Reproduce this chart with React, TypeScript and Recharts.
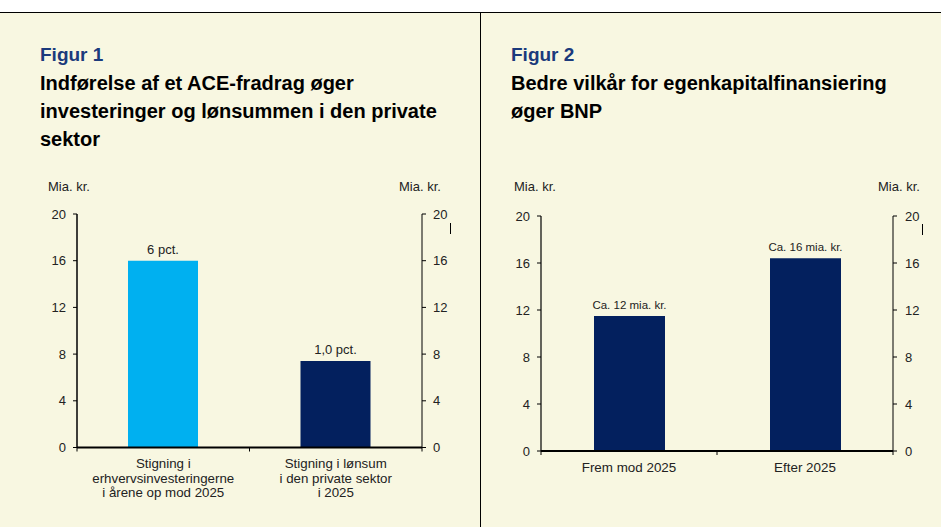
import React from 'react';
import { ComposedChart, Bar, Line, XAxis, YAxis, LabelList, Cell } from 'recharts';

// ---------- data ----------
const fig1Categories = [
  'Stigning i\nerhvervsinvesteringerne\ni årene op mod 2025',
  'Stigning i lønsum\ni den private sektor\ni 2025',
];
const fig1Values = [16, 7.4];
const fig1Labels = ['6 pct.', '1,0 pct.'];
const fig1Colors = ['#00B0F0', '#03205E'];

const fig2Categories = ['Frem mod 2025', 'Efter 2025'];
const fig2Values = [11.5, 16.4];
const fig2Labels = ['Ca. 12 mia. kr.', 'Ca. 16 mia. kr.'];
const fig2Color = '#03205E';

const yTicks = [0, 4, 8, 12, 16, 20];

const fig1Data = fig1Categories.map((c, i) => ({ cat: c, value: fig1Values[i], label: fig1Labels[i] }));
const fig2Data = fig2Categories.map((c, i) => ({ cat: c, value: fig2Values[i], label: fig2Labels[i] }));

const FONT = '"Liberation Sans", Arial, Helvetica, sans-serif';
const BG = '#F8F7E1';
const TXT = '#222222';

const CatTick = (props: any) => {
  const { x, y, payload, width, visibleTicksCount, index, fallbackWidth, fontSize, dyFirst, lineGap } = props;
  const count = visibleTicksCount || 2;
  const w = typeof width === 'number' && width > 0 ? width : fallbackWidth;
  const band = w / count;
  const lines = String(payload.value).split('\n');
  return (
    <g>
      <line x1={x - band / 2} x2={x - band / 2} y1={y} y2={y + 4} stroke="#000" strokeWidth={1} />
      {index === count - 1 && (
        <line x1={x + band / 2} x2={x + band / 2} y1={y} y2={y + 4} stroke="#000" strokeWidth={1} />
      )}
      <text x={x} y={y} textAnchor="middle" fontSize={fontSize} fill={TXT} fontFamily={FONT}>
        {lines.map((l, i) => (
          <tspan key={i} x={x} dy={i === 0 ? dyFirst : lineGap}>
            {l}
          </tspan>
        ))}
      </text>
    </g>
  );
};

const NumTick = (props: any) => {
  const { x, y, payload, anchor } = props;
  return (
    <text x={x} y={y} dy={4.6} textAnchor={anchor} fontSize={13} fill={TXT} fontFamily={FONT}>
      {payload.value}
    </text>
  );
};

const BarLabel = (props: any) => {
  const { x, y, width, value, fontSize } = props;
  return (
    <text x={x + width / 2} y={y - 7} textAnchor="middle" fontSize={fontSize} fill={TXT} fontFamily={FONT}>
      {value}
    </text>
  );
};

const titleStyle: React.CSSProperties = {
  position: 'absolute',
  fontFamily: FONT,
  fontWeight: 'bold',
  fontSize: 20,
  lineHeight: '28px',
  color: '#000',
  whiteSpace: 'nowrap',
};

const unitStyle: React.CSSProperties = {
  position: 'absolute',
  fontFamily: FONT,
  fontSize: 13,
  lineHeight: '15px',
  color: TXT,
  whiteSpace: 'nowrap',
};

export default function App() {
  return (
    <div style={{ position: 'absolute', left: 0, top: 0, width: 941, height: 527, background: '#fff', overflow: 'hidden' }}>
      <div style={{ position: 'absolute', left: 0, top: 12, width: 941, height: 515, background: BG }} />
      <div style={{ position: 'absolute', left: 0, top: 12, width: 941, height: 1, background: '#000' }} />
      <div style={{ position: 'absolute', left: 480, top: 12, width: 1, height: 515, background: '#000' }} />

      {/* Figure 1 titles */}
      <div style={{ ...titleStyle, left: 40, top: 40 }}>
        <span style={{ color: '#1B3A7C', fontSize: 19 }}>Figur 1</span>
        <br />
        Indførelse af et ACE-fradrag øger
        <br />
        investeringer og lønsummen i den private
        <br />
        sektor
      </div>
      <div style={{ ...unitStyle, left: 48, top: 179 }}>Mia. kr.</div>
      <div style={{ ...unitStyle, left: 399, top: 179 }}>Mia. kr.</div>
      <div style={{ position: 'absolute', left: 450, top: 223, width: 1, height: 11, background: '#000' }} />

      <div style={{ position: 'absolute', left: 0, top: 200 }}>
        <ComposedChart width={480} height={320} data={fig1Data} margin={{ top: 14, right: 0, bottom: 0, left: 0 }}>
          <XAxis
            dataKey="cat"
            height={72.5}
            interval={0}
            tickSize={0}
            tickMargin={0}
            tickLine={false}
            axisLine={{ stroke: '#000', strokeWidth: 2 }}
            tick={<CatTick fallbackWidth={345} fontSize={13.3} dyFirst={20.5} lineGap={14.5} />}
          />
          <YAxis
            yAxisId="l"
            orientation="left"
            width={77}
            domain={[0, 20]}
            ticks={yTicks}
            interval={0}
            tickSize={4}
            tickMargin={7}
            axisLine={{ stroke: '#000', strokeWidth: 1.5 }}
            tickLine={{ stroke: '#000' }}
            tick={<NumTick anchor="end" />}
          />
          <YAxis
            yAxisId="r"
            orientation="right"
            width={58}
            domain={[0, 20]}
            ticks={yTicks}
            interval={0}
            tickSize={4}
            tickMargin={7}
            axisLine={{ stroke: '#000', strokeWidth: 1 }}
            tickLine={{ stroke: '#000' }}
            tick={<NumTick anchor="start" />}
          />
          <Bar yAxisId="l" dataKey="value" barSize={70} isAnimationActive={false}>
            {fig1Data.map((d, i) => (
              <Cell key={i} fill={fig1Colors[i]} />
            ))}
            <LabelList dataKey="label" content={<BarLabel fontSize={13} />} />
          </Bar>
          <Line yAxisId="r" dataKey="value" stroke="none" dot={false} activeDot={false} legendType="none" isAnimationActive={false} />
        </ComposedChart>
      </div>

      {/* Figure 2 titles */}
      <div style={{ ...titleStyle, left: 511, top: 40 }}>
        <span style={{ color: '#1B3A7C', fontSize: 19 }}>Figur 2</span>
        <br />
        Bedre vilkår for egenkapitalfinansiering
        <br />
        øger BNP
      </div>
      <div style={{ ...unitStyle, left: 514, top: 179 }}>Mia. kr.</div>
      <div style={{ ...unitStyle, left: 878, top: 179 }}>Mia. kr.</div>
      <div style={{ position: 'absolute', left: 922, top: 224, width: 1, height: 11, background: '#000' }} />

      <div style={{ position: 'absolute', left: 481, top: 200 }}>
        <ComposedChart width={460} height={320} data={fig2Data} margin={{ top: 16, right: 0, bottom: 0, left: 0 }}>
          <XAxis
            dataKey="cat"
            height={69}
            interval={0}
            tickSize={0}
            tickMargin={0}
            tickLine={false}
            axisLine={{ stroke: '#000', strokeWidth: 2 }}
            tick={<CatTick fallbackWidth={352} fontSize={13.4} dyFirst={21.3} lineGap={14.5} />}
          />
          <YAxis
            yAxisId="l"
            orientation="left"
            width={60}
            domain={[0, 20]}
            ticks={yTicks}
            interval={0}
            tickSize={4}
            tickMargin={7}
            axisLine={{ stroke: '#000', strokeWidth: 1.2 }}
            tickLine={{ stroke: '#000' }}
            tick={<NumTick anchor="end" />}
          />
          <YAxis
            yAxisId="r"
            orientation="right"
            width={48}
            domain={[0, 20]}
            ticks={yTicks}
            interval={0}
            tickSize={4}
            tickMargin={8}
            axisLine={{ stroke: '#000', strokeWidth: 1 }}
            tickLine={{ stroke: '#000' }}
            tick={<NumTick anchor="start" />}
          />
          <Bar yAxisId="l" dataKey="value" barSize={71} fill={fig2Color} isAnimationActive={false}>
            <LabelList dataKey="label" content={<BarLabel fontSize={11.5} />} />
          </Bar>
          <Line yAxisId="r" dataKey="value" stroke="none" dot={false} activeDot={false} legendType="none" isAnimationActive={false} />
        </ComposedChart>
      </div>
    </div>
  );
}
